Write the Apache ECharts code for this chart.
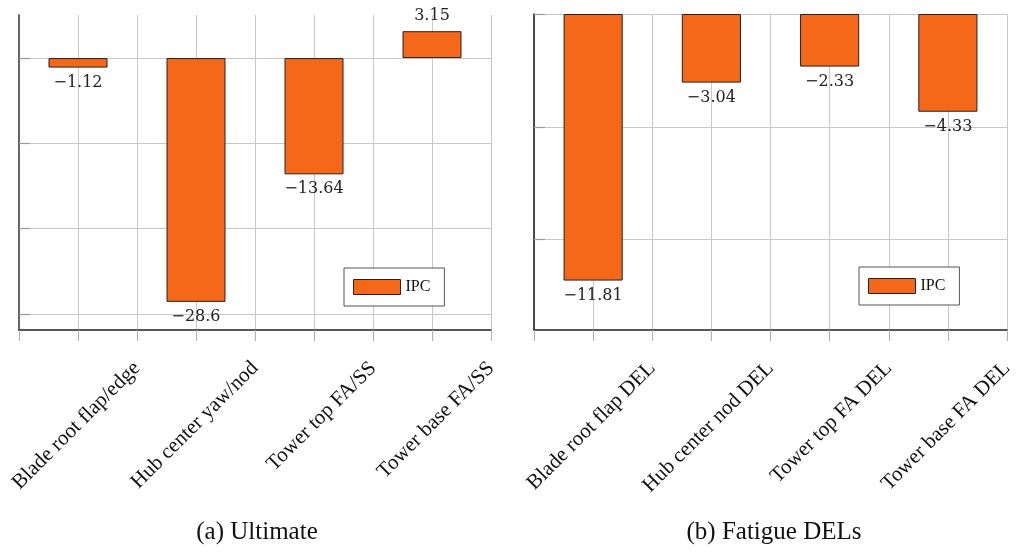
<!DOCTYPE html>
<html>
<head>
<meta charset="utf-8">
<script src="https://cdn.jsdelivr.net/npm/echarts@6/dist/echarts.min.js"></script>
<style>
html,body{margin:0;padding:0;background:#fff;}
#chart{width:1019px;height:553px;}
</style>
</head>
<body>
<div id="chart"></div>
<script>
// ---- data ----
const categoriesA = ['Blade root flap/edge', 'Hub center yaw/nod', 'Tower top FA/SS', 'Tower base FA/SS'];
const valuesA = [-1.12, -28.6, -13.64, 3.15];
const categoriesB = ['Blade root flap DEL', 'Hub center nod DEL', 'Tower top FA DEL', 'Tower base FA DEL'];
const valuesB = [-11.81, -3.04, -2.33, -4.33];
const yTicksA = [-30, -20, -10, 0];
const yTicksB = [-10, -5, 0];
const yRangeA = [-31.9, 5.05];
const yRangeB = [-14, 0];
const seriesName = 'IPC';
const captions = ['(a) Ultimate', '(b) Fatigue DELs'];

// ---- styles ----
const ORANGE = '#f5681a';
const GRID_COL = '#c8c8c8';
const SERIF = '"Liberation Serif", "Times New Roman", serif';
const NUMFONT = '"DejaVu Serif", serif';

function fmt(v) {
  return (v < 0 ? '\u2212' : '') + String(Math.abs(v));
}

function valueXAxis(gridIndex, cats) {
  return {
    type: 'value', gridIndex: gridIndex, position: 'bottom',
    min: 0, max: cats.length * 2, interval: 1,
    axisLine: { show: true, onZero: false, lineStyle: { color: '#222', width: 1.5 } },
    axisTick: { show: true, inside: false, length: 11, lineStyle: { color: '#b0b0b0', width: 1 } },
    splitLine: { show: true, lineStyle: { color: GRID_COL, width: 1 } },
    axisLabel: {
      show: true, rotate: 45, margin: 35, padding: [0, 0, 0, 0],
      fontFamily: SERIF, fontSize: 21, color: '#111',
      formatter: function (v) {
        const k = Math.round(v);
        return (k > 0 && k % 2 === 0) ? cats[k / 2 - 1] : '';
      }
    }
  };
}
function catXAxis(gridIndex, cats) {
  return { type: 'category', gridIndex: gridIndex, data: cats, show: false, boundaryGap: true };
}
function yAx(gridIndex, range, ticks, lineColor, lineWidth) {
  return {
    type: 'value', gridIndex: gridIndex, min: range[0], max: range[1],
    axisLine: { show: true, onZero: false, lineStyle: { color: lineColor, width: lineWidth } },
    axisTick: { show: true, inside: true, length: 11, customValues: ticks, lineStyle: { color: '#999', width: 1.2 } },
    axisLabel: { show: false },
    splitLine: { show: true, lineStyle: { color: GRID_COL, width: 1 } }
  };
}
function barSeries(xi, yi, vals) {
  return {
    name: seriesName, type: 'bar', xAxisIndex: xi, yAxisIndex: yi,
    data: vals, barWidth: '50%',
    itemStyle: { color: ORANGE, borderColor: '#222', borderWidth: 1 },
    label: {
      show: true, position: 'outside', distance: 7,
      fontFamily: NUMFONT, fontSize: 16, color: '#222',
      formatter: function (p) { return fmt(p.value); }
    },
    emphasis: { disabled: true },
    animation: false
  };
}
function legendAt(left, top) {
  return {
    left: left, top: top, orient: 'vertical',
    data: [seriesName],
    itemWidth: 47, itemHeight: 15, itemGap: 5,
    padding: [11, 14, 11, 9],
    borderColor: '#555', borderWidth: 1, backgroundColor: '#fff',
    selectedMode: false,
    itemStyle: { borderWidth: 1, borderColor: '#222' },
    textStyle: { fontFamily: SERIF, fontSize: 16, color: '#111', padding: [0, 0, 0, 0] },
    icon: 'rect'
  };
}

const chart = echarts.init(document.getElementById('chart'), null, { renderer: 'canvas' });
chart.setOption({
  animation: false,
  backgroundColor: '#fff',
  title: [
    { text: captions[0], left: 252, top: 515, textAlign: 'center',
      textStyle: { fontFamily: SERIF, fontSize: 25, fontWeight: 'normal', color: '#111' } },
    { text: captions[1], left: 769, top: 515, textAlign: 'center',
      textStyle: { fontFamily: SERIF, fontSize: 25, fontWeight: 'normal', color: '#111' } }
  ],
  legend: [legendAt(344, 268), legendAt(859, 267)],
  grid: [
    { left: 19, top: 15, width: 472, height: 315, containLabel: false },
    { left: 534, top: 14, width: 473, height: 316, containLabel: false }
  ],
  xAxis: [
    valueXAxis(0, categoriesA), catXAxis(0, categoriesA),
    valueXAxis(1, categoriesB), catXAxis(1, categoriesB)
  ],
  yAxis: [
    yAx(0, yRangeA, yTicksA, '#666', 2),
    yAx(1, yRangeB, yTicksB, '#222', 1.6)
  ],
  series: [
    barSeries(1, 0, valuesA),
    barSeries(3, 1, valuesB)
  ]
});
</script>
</body>
</html>
